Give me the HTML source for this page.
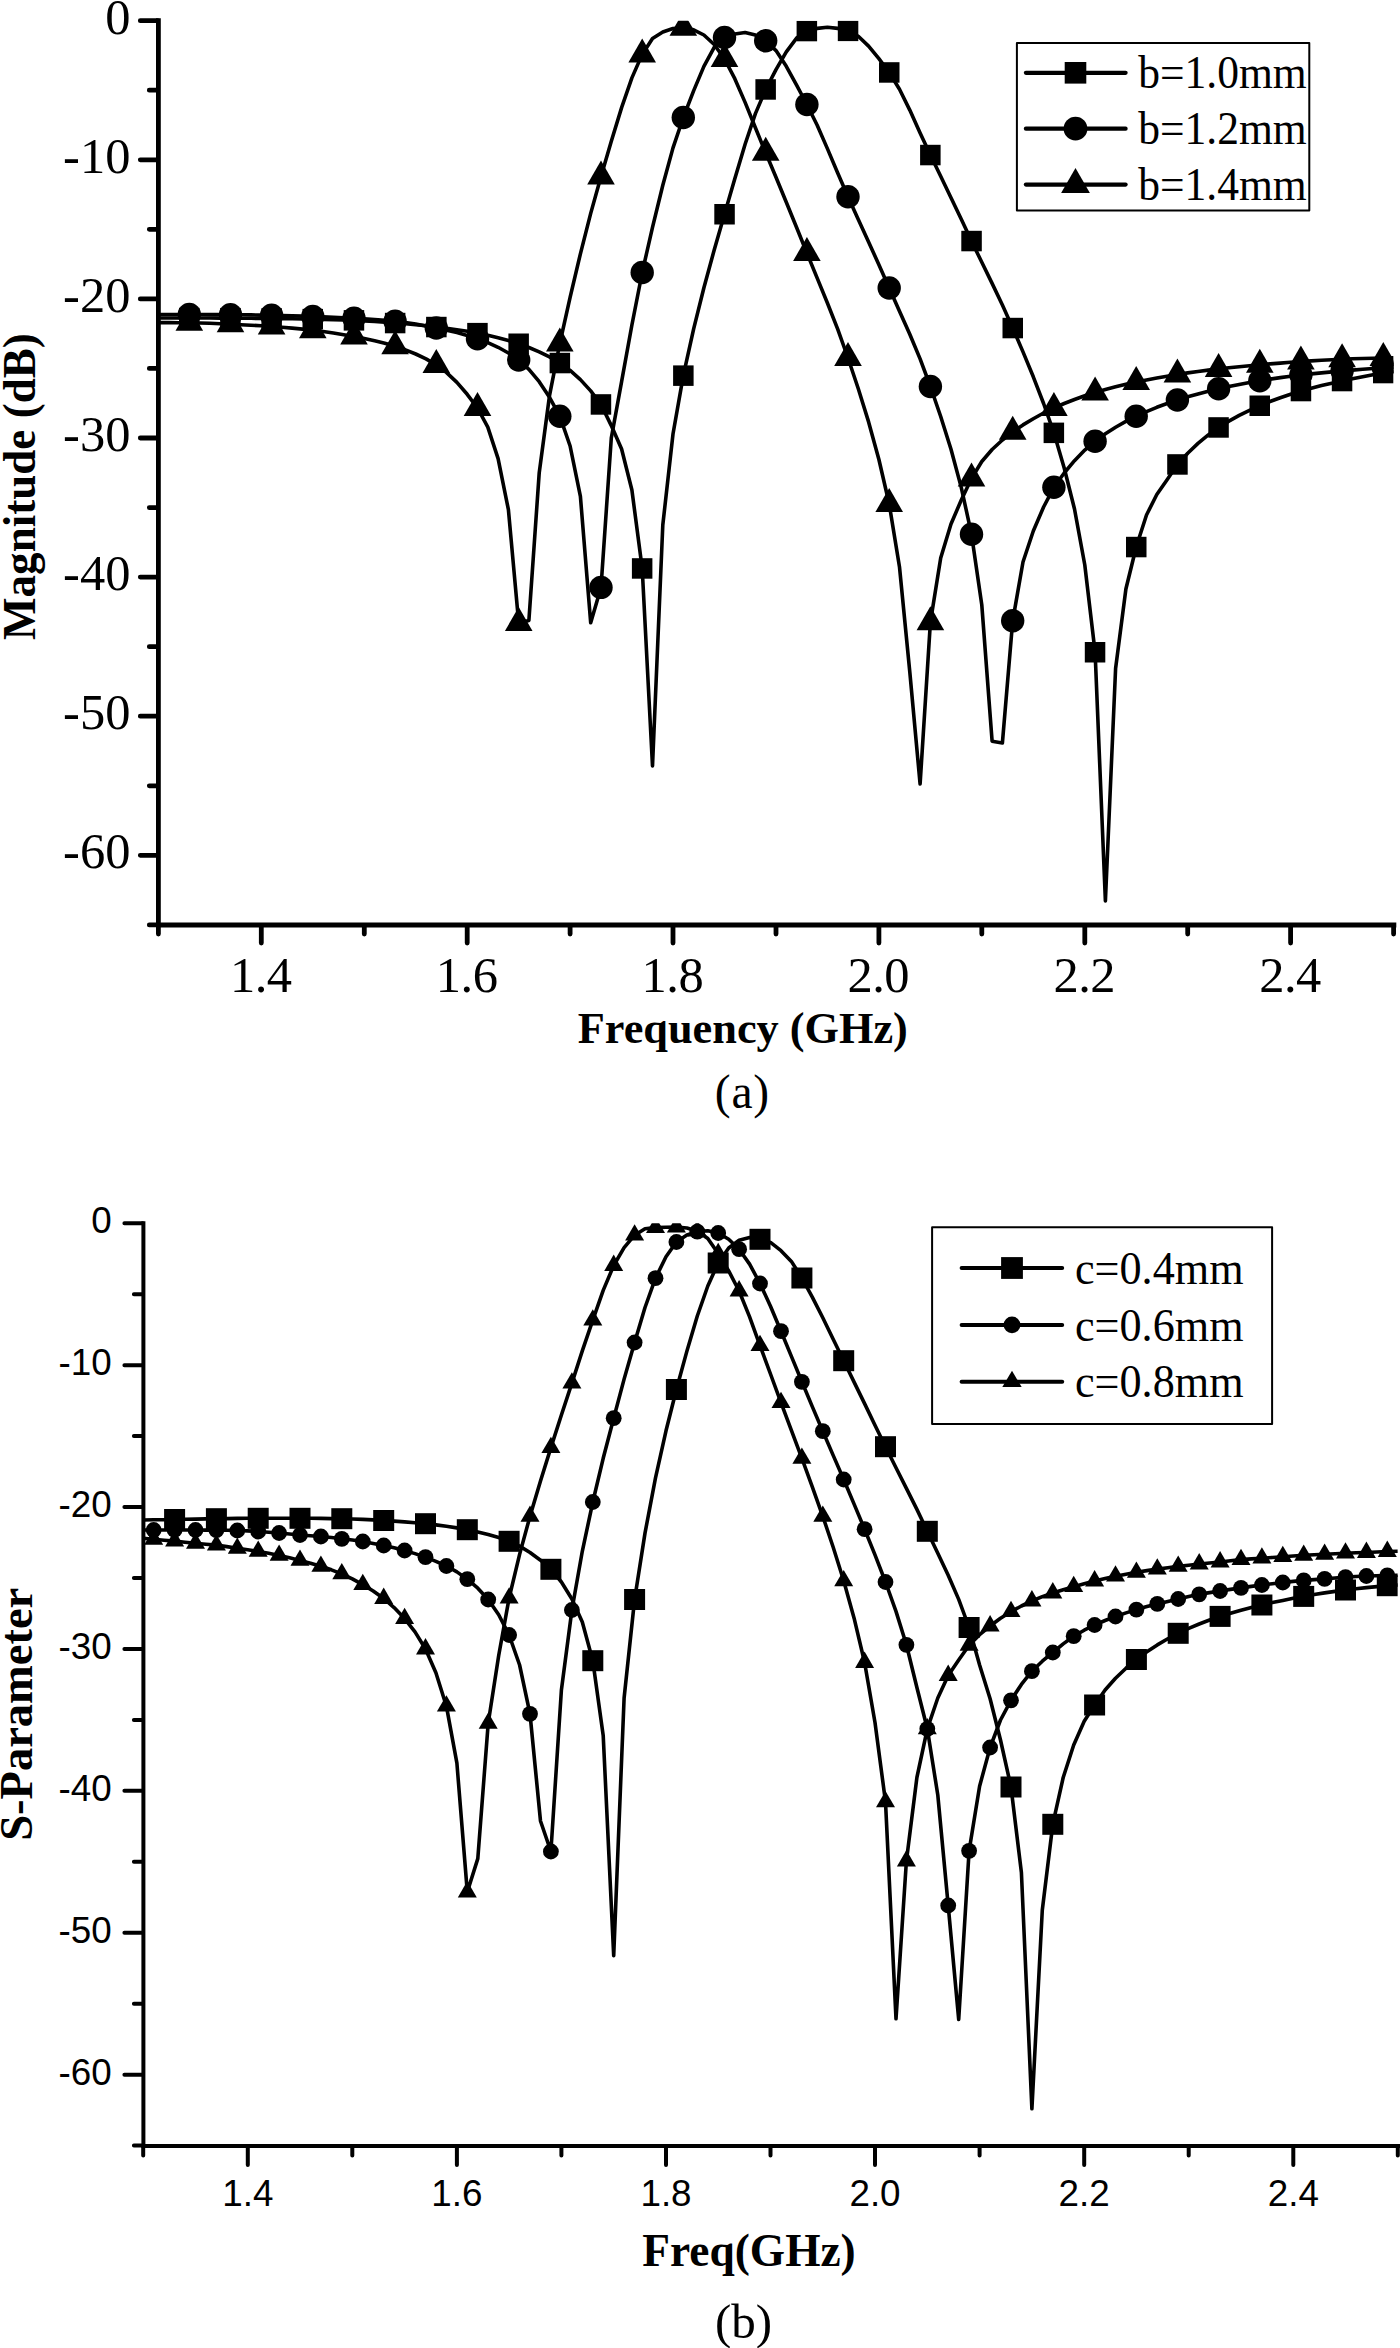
<!DOCTYPE html>
<html lang="en">
<head>
<meta charset="utf-8">
<title>Simulated S-parameter magnitude versus frequency</title>
<style>
html,body{margin:0;padding:0;background:#fff;}
body{width:1400px;height:2348px;overflow:hidden;}
svg{display:block;}
</style>
</head>
<body>
<svg width="1400" height="2348" viewBox="0 0 1400 2348" role="img" aria-label="S-parameter magnitude versus frequency, two panels">
<defs>
<clipPath id="cp1"><rect x="158.4" y="20.7" width="1235.2" height="904.3"/></clipPath>
<clipPath id="cp2"><rect x="143.4" y="1223.2" width="1254.4" height="922.8"/></clipPath>
</defs>
<rect width="1400" height="2348" fill="#fff"/>
<g clip-path="url(#cp1)">
<g fill="none" stroke="#000" stroke-width="3.6" stroke-linejoin="round">
<path d="M158.4 318.0L168.7 318.0L179.0 318.0L189.3 318.0L199.6 318.0L209.9 318.0L220.2 318.1L230.5 318.1L240.7 318.2L251.0 318.3L261.3 318.4L271.6 318.5L281.9 318.6L292.2 318.8L302.5 319.0L312.8 319.2L323.1 319.4L333.4 319.7L343.7 320.0L354.0 320.4L364.3 320.9L374.6 321.5L384.8 322.2L395.1 323.0L405.4 323.8L415.7 324.8L426.0 325.8L436.3 327.0L446.6 328.3L456.9 329.7L467.2 331.3L477.5 333.1L487.8 335.2L498.1 337.7L508.4 340.5L518.7 343.8L528.9 347.5L539.2 351.8L549.5 356.9L559.8 363.0L570.1 370.4L580.4 379.6L590.7 390.9L601.0 404.5L611.3 425.6L621.6 449.0L631.9 490.0L642.2 568.5L652.5 766.0L662.8 525.0L673.0 434.0L683.3 375.6L693.6 329.1L703.9 287.7L714.2 250.0L724.5 214.2L734.8 178.7L745.1 144.2L755.4 113.6L765.7 89.5L776.0 69.7L786.3 51.8L796.6 38.1L806.9 31.0L817.2 28.4L827.4 27.3L837.7 28.4L848.0 30.8L858.3 36.3L868.6 46.1L878.9 58.7L889.2 72.5L899.5 89.2L909.8 110.1L920.1 132.9L930.4 155.0L940.7 176.2L951.0 197.7L961.3 219.3L971.5 241.0L981.8 262.3L992.1 283.4L1002.4 305.1L1012.7 328.0L1023.0 351.9L1033.3 376.8L1043.6 403.5L1053.9 432.8L1064.2 468.0L1074.5 509.0L1084.8 565.0L1095.1 652.3L1105.4 901.0L1115.6 668.5L1125.9 589.0L1136.2 547.0L1146.5 515.0L1156.8 494.5L1167.1 479.8L1177.4 464.5L1187.7 453.2L1198.0 443.4L1208.3 434.9L1218.6 427.5L1228.9 421.1L1239.2 415.4L1249.5 410.3L1259.8 405.8L1270.0 401.5L1280.3 397.7L1290.6 394.2L1300.9 391.0L1311.2 388.2L1321.5 385.6L1331.8 383.3L1342.1 381.0L1352.4 378.8L1362.7 376.7L1373.0 374.8L1383.3 373.0L1393.6 371.5"/>
<path d="M158.4 314.5L168.7 314.5L179.0 314.5L189.3 314.5L199.6 314.5L209.9 314.6L220.2 314.6L230.5 314.7L240.7 314.8L251.0 314.9L261.3 315.1L271.6 315.3L281.9 315.5L292.2 315.8L302.5 316.1L312.8 316.4L323.1 316.8L333.4 317.2L343.7 317.7L354.0 318.2L364.3 318.8L374.6 319.5L384.8 320.3L395.1 321.2L405.4 322.5L415.7 324.1L426.0 326.0L436.3 328.0L446.6 330.2L456.9 332.6L467.2 335.5L477.5 338.8L487.8 342.6L498.1 347.3L508.4 353.0L518.7 360.0L528.9 369.3L539.2 381.7L549.5 397.3L559.8 416.2L570.1 446.0L580.4 496.3L590.7 622.8L601.0 587.4L611.3 438.0L621.6 381.6L631.9 325.0L642.2 272.5L652.5 227.4L662.8 185.2L673.0 147.9L683.3 117.5L693.6 90.9L703.9 66.4L714.2 47.4L724.5 37.5L734.8 34.0L745.1 32.5L755.4 35.1L765.7 40.8L776.0 50.6L786.3 66.3L796.6 85.1L806.9 104.5L817.2 125.2L827.4 148.6L837.7 173.0L848.0 196.8L858.3 219.5L868.6 242.0L878.9 264.7L889.2 288.0L899.5 311.2L909.8 334.3L920.1 358.9L930.4 386.5L940.7 416.5L951.0 449.3L961.3 487.6L971.5 534.2L981.8 605.0L992.1 741.2L1002.4 743.0L1012.7 620.8L1023.0 562.0L1033.3 531.0L1043.6 507.0L1053.9 487.3L1064.2 473.0L1074.5 460.7L1084.8 450.1L1095.1 441.2L1105.4 433.7L1115.6 427.2L1125.9 421.4L1136.2 416.2L1146.5 411.6L1156.8 407.3L1167.1 403.5L1177.4 400.0L1187.7 396.8L1198.0 393.9L1208.3 391.2L1218.6 388.8L1228.9 386.5L1239.2 384.4L1249.5 382.5L1259.8 380.8L1270.0 379.1L1280.3 377.6L1290.6 376.2L1300.9 375.0L1311.2 373.9L1321.5 372.9L1331.8 371.9L1342.1 371.0L1352.4 370.1L1362.7 369.3L1373.0 368.5L1383.3 367.8L1393.6 367.2"/>
<path d="M158.4 322.6L168.7 322.6L179.0 322.7L189.3 322.8L199.6 323.0L209.9 323.3L220.2 323.8L230.5 324.2L240.7 324.7L251.0 325.2L261.3 325.7L271.6 326.4L281.9 327.2L292.2 328.1L302.5 329.1L312.8 330.2L323.1 331.5L333.4 333.0L343.7 334.7L354.0 336.5L364.3 338.5L374.6 340.8L384.8 343.3L395.1 346.3L405.4 349.8L415.7 354.0L426.0 358.9L436.3 364.9L446.6 372.6L456.9 382.4L467.2 394.3L477.5 408.0L487.8 427.1L498.1 458.6L508.4 509.6L518.7 623.0L528.9 620.4L539.2 473.0L549.5 395.7L559.8 343.5L570.1 297.3L580.4 253.8L590.7 213.4L601.0 176.4L611.3 141.2L621.6 107.6L631.9 77.9L642.2 54.4L652.5 38.5L662.8 32.0L673.0 28.5L683.3 27.8L693.6 29.8L703.9 35.0L714.2 44.5L724.5 59.0L734.8 78.7L745.1 102.4L755.4 127.8L765.7 152.8L776.0 177.3L786.3 202.2L796.6 227.5L806.9 253.0L817.2 278.1L827.4 303.0L837.7 329.2L848.0 358.0L858.3 388.8L868.6 421.9L878.9 459.5L889.2 504.0L899.5 567.0L909.8 672.0L920.1 784.0L930.4 622.2L940.7 558.0L951.0 524.0L961.3 500.0L971.5 478.5L981.8 461.5L992.1 449.5L1002.4 440.0L1012.7 431.8L1023.0 424.9L1033.3 418.7L1043.6 413.0L1053.9 408.0L1064.2 403.5L1074.5 399.5L1084.8 395.8L1095.1 392.5L1105.4 389.5L1115.6 386.8L1125.9 384.3L1136.2 382.0L1146.5 379.9L1156.8 378.0L1167.1 376.2L1177.4 374.5L1187.7 372.9L1198.0 371.5L1208.3 370.1L1218.6 368.9L1228.9 367.8L1239.2 366.7L1249.5 365.7L1259.8 364.8L1270.0 363.9L1280.3 363.1L1290.6 362.3L1300.9 361.6L1311.2 360.9L1321.5 360.3L1331.8 359.7L1342.1 359.2L1352.4 358.8L1362.7 358.5L1373.0 358.2L1383.3 358.0L1393.6 357.8"/>
</g>
<g fill="#000">
<rect x="179.0" y="307.8" width="20.5" height="20.5"/>
<rect x="220.2" y="307.9" width="20.5" height="20.5"/>
<rect x="261.4" y="308.2" width="20.5" height="20.5"/>
<rect x="302.5" y="308.9" width="20.5" height="20.5"/>
<rect x="343.7" y="310.1" width="20.5" height="20.5"/>
<rect x="384.9" y="312.8" width="20.5" height="20.5"/>
<rect x="426.1" y="316.8" width="20.5" height="20.5"/>
<rect x="467.2" y="322.9" width="20.5" height="20.5"/>
<rect x="508.4" y="333.5" width="20.5" height="20.5"/>
<rect x="549.6" y="352.8" width="20.5" height="20.5"/>
<rect x="590.7" y="394.2" width="20.5" height="20.5"/>
<rect x="631.9" y="558.2" width="20.5" height="20.5"/>
<rect x="673.1" y="365.4" width="20.5" height="20.5"/>
<rect x="714.3" y="204.0" width="20.5" height="20.5"/>
<rect x="755.4" y="79.2" width="20.5" height="20.5"/>
<rect x="796.6" y="20.8" width="20.5" height="20.5"/>
<rect x="837.8" y="20.6" width="20.5" height="20.5"/>
<rect x="879.0" y="62.2" width="20.5" height="20.5"/>
<rect x="920.1" y="144.8" width="20.5" height="20.5"/>
<rect x="961.3" y="230.8" width="20.5" height="20.5"/>
<rect x="1002.5" y="317.8" width="20.5" height="20.5"/>
<rect x="1043.6" y="422.6" width="20.5" height="20.5"/>
<rect x="1084.8" y="642.0" width="20.5" height="20.5"/>
<rect x="1126.0" y="536.8" width="20.5" height="20.5"/>
<rect x="1167.2" y="454.2" width="20.5" height="20.5"/>
<rect x="1208.3" y="417.2" width="20.5" height="20.5"/>
<rect x="1249.5" y="395.5" width="20.5" height="20.5"/>
<rect x="1290.7" y="380.8" width="20.5" height="20.5"/>
<rect x="1331.8" y="370.8" width="20.5" height="20.5"/>
<rect x="1373.0" y="362.8" width="20.5" height="20.5"/>
<circle cx="189.3" cy="314.5" r="11.70"/>
<circle cx="230.5" cy="314.7" r="11.70"/>
<circle cx="271.6" cy="315.3" r="11.70"/>
<circle cx="312.8" cy="316.4" r="11.70"/>
<circle cx="354.0" cy="318.2" r="11.70"/>
<circle cx="395.1" cy="321.2" r="11.70"/>
<circle cx="436.3" cy="328.0" r="11.70"/>
<circle cx="477.5" cy="338.8" r="11.70"/>
<circle cx="518.7" cy="360.0" r="11.70"/>
<circle cx="559.8" cy="416.2" r="11.70"/>
<circle cx="601.0" cy="587.4" r="11.70"/>
<circle cx="642.2" cy="272.5" r="11.70"/>
<circle cx="683.3" cy="117.5" r="11.70"/>
<circle cx="724.5" cy="37.5" r="11.70"/>
<circle cx="765.7" cy="40.8" r="11.70"/>
<circle cx="806.9" cy="104.5" r="11.70"/>
<circle cx="848.0" cy="196.8" r="11.70"/>
<circle cx="889.2" cy="288.0" r="11.70"/>
<circle cx="930.4" cy="386.5" r="11.70"/>
<circle cx="971.5" cy="534.2" r="11.70"/>
<circle cx="1012.7" cy="620.8" r="11.70"/>
<circle cx="1053.9" cy="487.3" r="11.70"/>
<circle cx="1095.1" cy="441.2" r="11.70"/>
<circle cx="1136.2" cy="416.2" r="11.70"/>
<circle cx="1177.4" cy="400.0" r="11.70"/>
<circle cx="1218.6" cy="388.8" r="11.70"/>
<circle cx="1259.8" cy="380.8" r="11.70"/>
<circle cx="1300.9" cy="375.0" r="11.70"/>
<circle cx="1342.1" cy="371.0" r="11.70"/>
<circle cx="1383.3" cy="367.8" r="11.70"/>
<path d="M189.3 306.8 L203.1 330.8 L175.5 330.8 Z"/>
<path d="M230.5 308.2 L244.3 332.2 L216.7 332.2 Z"/>
<path d="M271.6 310.4 L285.4 334.4 L257.8 334.4 Z"/>
<path d="M312.8 314.2 L326.6 338.2 L299.0 338.2 Z"/>
<path d="M354.0 320.5 L367.8 344.5 L340.2 344.5 Z"/>
<path d="M395.1 330.3 L408.9 354.3 L381.3 354.3 Z"/>
<path d="M436.3 348.9 L450.1 372.9 L422.5 372.9 Z"/>
<path d="M477.5 392.0 L491.3 416.0 L463.7 416.0 Z"/>
<path d="M518.7 607.0 L532.5 631.0 L504.9 631.0 Z"/>
<path d="M559.8 327.5 L573.6 351.5 L546.0 351.5 Z"/>
<path d="M601.0 160.4 L614.8 184.4 L587.2 184.4 Z"/>
<path d="M642.2 38.4 L656.0 62.4 L628.4 62.4 Z"/>
<path d="M683.3 11.8 L697.1 35.8 L669.5 35.8 Z"/>
<path d="M724.5 43.0 L738.3 67.0 L710.7 67.0 Z"/>
<path d="M765.7 136.8 L779.5 160.8 L751.9 160.8 Z"/>
<path d="M806.9 237.0 L820.7 261.0 L793.1 261.0 Z"/>
<path d="M848.0 342.0 L861.8 366.0 L834.2 366.0 Z"/>
<path d="M889.2 488.0 L903.0 512.0 L875.4 512.0 Z"/>
<path d="M930.4 606.2 L944.2 630.2 L916.6 630.2 Z"/>
<path d="M971.5 462.5 L985.3 486.5 L957.7 486.5 Z"/>
<path d="M1012.7 415.8 L1026.5 439.8 L998.9 439.8 Z"/>
<path d="M1053.9 392.0 L1067.7 416.0 L1040.1 416.0 Z"/>
<path d="M1095.1 376.5 L1108.9 400.5 L1081.3 400.5 Z"/>
<path d="M1136.2 366.0 L1150.0 390.0 L1122.4 390.0 Z"/>
<path d="M1177.4 358.5 L1191.2 382.5 L1163.6 382.5 Z"/>
<path d="M1218.6 352.9 L1232.4 376.9 L1204.8 376.9 Z"/>
<path d="M1259.8 348.8 L1273.6 372.8 L1246.0 372.8 Z"/>
<path d="M1300.9 345.6 L1314.7 369.6 L1287.1 369.6 Z"/>
<path d="M1342.1 343.2 L1355.9 367.2 L1328.3 367.2 Z"/>
<path d="M1383.3 342.0 L1397.1 366.0 L1369.5 366.0 Z"/>
</g></g>
<g stroke="#000" stroke-linecap="round" fill="none">
<path stroke-width="4.8" stroke-linecap="butt" d="M158.4 18.3 V925.0"/>
<path stroke-width="4.8" stroke-linecap="butt" d="M156.0 925.0 H1396.3"/>
<path stroke-width="4.8" d="M157.6 20.7 H140.3M157.6 90.2 H149.3M157.6 159.8 H140.3M157.6 229.3 H149.3M157.6 298.9 H140.3M157.6 368.4 H149.3M157.6 438.0 H140.3M157.6 507.6 H149.3M157.6 577.1 H140.3M157.6 646.7 H149.3M157.6 716.2 H140.3M157.6 785.8 H149.3M157.6 855.3 H140.3M157.6 924.9 H149.3M158.4 925.8 V934.1M261.3 925.8 V943.1M364.3 925.8 V934.1M467.2 925.8 V943.1M570.1 925.8 V934.1M673.0 925.8 V943.1M776.0 925.8 V934.1M878.9 925.8 V943.1M981.8 925.8 V934.1M1084.8 925.8 V943.1M1187.7 925.8 V934.1M1290.6 925.8 V943.1M1393.6 925.8 V934.1"/>
</g>
<g font-family="'Liberation Serif', serif" font-size="50.5" fill="#000">
<g text-anchor="end">
<text x="130.4" y="33.7">0</text>
<text x="130.4" y="172.8">-10</text>
<text x="130.4" y="311.9">-20</text>
<text x="130.4" y="451.0">-30</text>
<text x="130.4" y="590.1">-40</text>
<text x="130.4" y="729.2">-50</text>
<text x="130.4" y="868.3">-60</text>
</g><g text-anchor="middle" letter-spacing="-0.50">
<text x="260.7" y="991.8">1.4</text>
<text x="466.6" y="991.8">1.6</text>
<text x="672.4" y="991.8">1.8</text>
<text x="878.3" y="991.8">2.0</text>
<text x="1084.2" y="991.8">2.2</text>
<text x="1290.0" y="991.8">2.4</text>
</g></g>
<rect x="1016.9" y="43" width="292.4" height="167.5" fill="#fff" stroke="#000" stroke-width="2" stroke-linejoin="round"/>
<g stroke="#000" stroke-width="4.2" stroke-linecap="round">
<path d="M1025.9 72.8 H1125.6"/>
<path d="M1025.9 128.7 H1125.6"/>
<path d="M1025.9 184.6 H1125.6"/>
</g>
<rect x="1064.7" y="62" width="21.6" height="21.6"/>
<circle cx="1075.5" cy="128.7" r="11.9"/>
<path d="M1075.5 168.1 L1089.9 192.9 L1061.1 192.9 Z"/>
<g font-family="'Liberation Serif', serif" font-size="45.5" fill="#000">
<text x="1138.2" y="88.1" textLength="168.5" lengthAdjust="spacingAndGlyphs">b=1.0mm</text>
<text x="1138.2" y="144.1" textLength="168.5" lengthAdjust="spacingAndGlyphs">b=1.2mm</text>
<text x="1138.2" y="200.0" textLength="168.5" lengthAdjust="spacingAndGlyphs">b=1.4mm</text>
</g>
<g font-family="'Liberation Serif', serif" fill="#000" text-anchor="middle">
<text x="742.8" y="1043" font-size="44.3" font-weight="bold">Frequency (GHz)</text>
<text x="742.4" y="1108" font-size="47.6" letter-spacing="0.8">(a)</text>
<text transform="translate(34.9 486.6) rotate(-90)" font-size="46" font-weight="bold" textLength="306.8" lengthAdjust="spacingAndGlyphs">Magnitude (dB)</text>
</g>
<g clip-path="url(#cp2)">
<g fill="none" stroke="#000" stroke-width="3.6" stroke-linejoin="round">
<path d="M143.2 1520.0L153.7 1519.8L164.1 1519.7L174.6 1519.5L185.0 1519.3L195.5 1519.1L205.9 1518.9L216.4 1518.8L226.8 1518.6L237.3 1518.4L247.7 1518.3L258.2 1518.2L268.7 1518.2L279.1 1518.2L289.6 1518.2L300.0 1518.2L310.5 1518.3L320.9 1518.4L331.4 1518.6L341.8 1518.8L352.3 1519.0L362.8 1519.4L373.2 1519.9L383.7 1520.5L394.1 1521.1L404.6 1521.9L415.0 1522.8L425.5 1523.8L435.9 1524.9L446.4 1526.3L456.9 1527.9L467.3 1529.8L477.8 1531.9L488.2 1534.4L498.7 1537.5L509.1 1541.2L519.6 1546.1L530.0 1552.5L540.5 1560.2L550.9 1569.2L561.4 1582.0L571.9 1599.0L582.3 1622.0L592.8 1660.8L603.2 1735.4L613.7 1955.6L624.1 1698.0L634.6 1599.5L645.0 1533.1L655.5 1477.8L666.0 1430.8L676.4 1389.5L686.9 1351.1L697.3 1316.0L707.8 1286.0L718.2 1263.0L728.7 1248.0L739.1 1240.3L749.6 1237.5L760.0 1239.3L770.5 1242.4L781.0 1250.7L791.4 1261.4L801.9 1278.0L812.3 1297.1L822.8 1317.8L833.2 1339.3L843.7 1360.8L854.1 1382.1L864.6 1403.6L875.0 1425.3L885.5 1446.8L896.0 1467.7L906.4 1488.4L916.9 1509.4L927.3 1531.2L937.8 1553.2L948.2 1575.3L958.7 1599.4L969.1 1627.5L979.6 1665.0L990.1 1698.8L1000.5 1740.0L1011.0 1787.0L1021.4 1872.5L1031.9 2108.8L1042.3 1910.0L1052.8 1824.2L1063.2 1777.5L1073.7 1745.0L1084.2 1721.2L1094.6 1705.0L1105.1 1690.0L1115.5 1678.3L1126.0 1668.2L1136.4 1659.5L1146.9 1651.8L1157.3 1644.9L1167.8 1638.8L1178.2 1633.3L1188.7 1628.4L1199.2 1624.0L1209.6 1620.0L1220.1 1616.4L1230.5 1613.2L1241.0 1610.2L1251.4 1607.5L1261.9 1605.0L1272.3 1602.6L1282.8 1600.4L1293.2 1598.3L1303.7 1596.4L1314.2 1594.6L1324.6 1592.9L1335.1 1591.4L1345.5 1590.0L1356.0 1588.8L1366.4 1587.6L1376.9 1586.6L1387.3 1585.7L1397.8 1585.0"/>
<path d="M143.2 1530.0L153.7 1530.0L164.1 1530.0L174.6 1530.0L185.0 1530.0L195.5 1530.0L205.9 1530.1L216.4 1530.2L226.8 1530.3L237.3 1530.5L247.7 1530.9L258.2 1531.5L268.7 1532.2L279.1 1533.0L289.6 1534.0L300.0 1535.0L310.5 1535.7L320.9 1536.5L331.4 1537.5L341.8 1538.8L352.3 1540.0L362.8 1541.5L373.2 1543.4L383.7 1545.5L394.1 1547.8L404.6 1550.5L415.0 1553.6L425.5 1557.2L435.9 1561.3L446.4 1566.0L456.9 1571.9L467.3 1579.2L477.8 1588.2L488.2 1599.5L498.7 1614.7L509.1 1635.0L519.6 1665.0L530.0 1713.8L540.5 1821.0L550.9 1851.5L561.4 1690.0L571.9 1610.0L582.3 1551.3L592.8 1502.0L603.2 1458.3L613.7 1418.2L624.1 1379.1L634.6 1342.5L645.0 1307.5L655.5 1278.2L666.0 1256.7L676.4 1242.0L686.9 1235.0L697.3 1231.6L707.8 1230.7L718.2 1233.0L728.7 1239.2L739.1 1249.2L749.6 1264.1L760.0 1283.5L770.5 1306.2L781.0 1331.2L791.4 1356.4L801.9 1381.8L812.3 1406.6L822.8 1431.2L833.2 1455.4L843.7 1479.5L854.1 1504.1L864.6 1529.2L875.0 1554.9L885.5 1582.0L896.0 1611.4L906.4 1644.8L916.9 1687.5L927.3 1728.8L937.8 1795.0L948.2 1905.5L958.7 2019.5L969.1 1850.8L979.6 1786.2L990.1 1747.5L1000.5 1720.0L1011.0 1700.3L1021.4 1684.4L1031.9 1671.2L1042.3 1661.2L1052.8 1652.5L1063.2 1643.9L1073.7 1636.2L1084.2 1630.2L1094.6 1625.0L1105.1 1620.5L1115.5 1616.5L1126.0 1612.9L1136.4 1609.6L1146.9 1606.6L1157.3 1603.9L1167.8 1601.4L1178.2 1599.0L1188.7 1596.5L1199.2 1594.3L1209.6 1592.6L1220.1 1591.0L1230.5 1589.4L1241.0 1587.9L1251.4 1586.4L1261.9 1585.0L1272.3 1583.7L1282.8 1582.5L1293.2 1581.4L1303.7 1580.4L1314.2 1579.6L1324.6 1578.9L1335.1 1578.0L1345.5 1577.1L1356.0 1576.5L1366.4 1576.0L1376.9 1575.7L1387.3 1575.4L1397.8 1575.2"/>
<path d="M143.2 1538.2L153.7 1539.3L164.1 1540.2L174.6 1541.1L185.0 1542.2L195.5 1543.3L205.9 1544.2L216.4 1545.1L226.8 1546.6L237.3 1548.3L247.7 1549.8L258.2 1551.4L268.7 1553.3L279.1 1555.4L289.6 1557.8L300.0 1560.4L310.5 1563.2L320.9 1566.3L331.4 1569.8L341.8 1573.9L352.3 1578.8L362.8 1584.6L373.2 1591.0L383.7 1598.5L394.1 1607.6L404.6 1618.6L415.0 1631.9L425.5 1649.0L435.9 1672.7L446.4 1706.2L456.9 1763.2L467.3 1892.0L477.8 1858.6L488.2 1723.3L498.7 1655.5L509.1 1598.1L519.6 1554.4L530.0 1516.3L540.5 1480.9L550.9 1447.6L561.4 1415.0L571.9 1383.1L582.3 1350.9L592.8 1320.1L603.2 1290.4L613.7 1265.5L624.1 1247.6L634.6 1235.2L645.0 1228.8L655.5 1227.6L666.0 1227.2L676.4 1227.1L686.9 1228.0L697.3 1231.0L707.8 1238.5L718.2 1253.6L728.7 1270.9L739.1 1291.0L749.6 1316.9L760.0 1345.6L770.5 1374.0L781.0 1402.6L791.4 1430.4L801.9 1458.3L812.3 1486.8L822.8 1516.3L833.2 1547.2L843.7 1580.8L854.1 1618.2L864.6 1662.5L875.0 1722.5L885.5 1801.8L896.0 2018.8L906.4 1861.0L916.9 1777.5L927.3 1728.8L937.8 1698.0L948.2 1675.5L958.7 1660.0L969.1 1645.3L979.6 1634.7L990.1 1626.0L1000.5 1618.3L1011.0 1611.7L1021.4 1606.0L1031.9 1601.0L1042.3 1596.7L1052.8 1593.0L1063.2 1589.7L1073.7 1586.7L1084.2 1583.8L1094.6 1581.0L1105.1 1578.5L1115.5 1576.2L1126.0 1574.2L1136.4 1572.3L1146.9 1570.6L1157.3 1569.1L1167.8 1567.7L1178.2 1566.4L1188.7 1565.2L1199.2 1564.0L1209.6 1563.0L1220.1 1562.0L1230.5 1560.7L1241.0 1559.6L1251.4 1558.9L1261.9 1558.2L1272.3 1557.5L1282.8 1556.7L1293.2 1556.0L1303.7 1555.3L1314.2 1554.8L1324.6 1554.3L1335.1 1553.7L1345.5 1553.2L1356.0 1552.8L1366.4 1552.5L1376.9 1552.0L1387.3 1551.5L1397.8 1551.2"/>
</g>
<g fill="#000">
<rect x="164.1" y="1509.0" width="21.0" height="21.0"/>
<rect x="205.9" y="1508.2" width="21.0" height="21.0"/>
<rect x="247.7" y="1507.8" width="21.0" height="21.0"/>
<rect x="289.5" y="1507.8" width="21.0" height="21.0"/>
<rect x="331.3" y="1508.2" width="21.0" height="21.0"/>
<rect x="373.2" y="1510.0" width="21.0" height="21.0"/>
<rect x="415.0" y="1513.2" width="21.0" height="21.0"/>
<rect x="456.8" y="1519.2" width="21.0" height="21.0"/>
<rect x="498.6" y="1530.8" width="21.0" height="21.0"/>
<rect x="540.4" y="1558.8" width="21.0" height="21.0"/>
<rect x="582.3" y="1650.2" width="21.0" height="21.0"/>
<rect x="624.1" y="1589.0" width="21.0" height="21.0"/>
<rect x="665.9" y="1379.0" width="21.0" height="21.0"/>
<rect x="707.7" y="1252.5" width="21.0" height="21.0"/>
<rect x="749.5" y="1228.8" width="21.0" height="21.0"/>
<rect x="791.4" y="1267.5" width="21.0" height="21.0"/>
<rect x="833.2" y="1350.2" width="21.0" height="21.0"/>
<rect x="875.0" y="1436.2" width="21.0" height="21.0"/>
<rect x="916.8" y="1520.8" width="21.0" height="21.0"/>
<rect x="958.6" y="1617.0" width="21.0" height="21.0"/>
<rect x="1000.5" y="1776.5" width="21.0" height="21.0"/>
<rect x="1042.3" y="1813.8" width="21.0" height="21.0"/>
<rect x="1084.1" y="1694.5" width="21.0" height="21.0"/>
<rect x="1125.9" y="1649.0" width="21.0" height="21.0"/>
<rect x="1167.7" y="1622.8" width="21.0" height="21.0"/>
<rect x="1209.6" y="1605.9" width="21.0" height="21.0"/>
<rect x="1251.4" y="1594.5" width="21.0" height="21.0"/>
<rect x="1293.2" y="1585.9" width="21.0" height="21.0"/>
<rect x="1335.0" y="1579.5" width="21.0" height="21.0"/>
<rect x="1376.8" y="1575.2" width="21.0" height="21.0"/>
<circle cx="153.7" cy="1530.0" r="7.90"/>
<circle cx="174.6" cy="1530.0" r="7.90"/>
<circle cx="195.5" cy="1530.0" r="7.90"/>
<circle cx="216.4" cy="1530.2" r="7.90"/>
<circle cx="237.3" cy="1530.5" r="7.90"/>
<circle cx="258.2" cy="1531.5" r="7.90"/>
<circle cx="279.1" cy="1533.0" r="7.90"/>
<circle cx="300.0" cy="1535.0" r="7.90"/>
<circle cx="320.9" cy="1536.5" r="7.90"/>
<circle cx="341.8" cy="1538.8" r="7.90"/>
<circle cx="362.8" cy="1541.5" r="7.90"/>
<circle cx="383.7" cy="1545.5" r="7.90"/>
<circle cx="404.6" cy="1550.5" r="7.90"/>
<circle cx="425.5" cy="1557.2" r="7.90"/>
<circle cx="446.4" cy="1566.0" r="7.90"/>
<circle cx="467.3" cy="1579.2" r="7.90"/>
<circle cx="488.2" cy="1599.5" r="7.90"/>
<circle cx="509.1" cy="1635.0" r="7.90"/>
<circle cx="530.0" cy="1713.8" r="7.90"/>
<circle cx="550.9" cy="1851.5" r="7.90"/>
<circle cx="571.9" cy="1610.0" r="7.90"/>
<circle cx="592.8" cy="1502.0" r="7.90"/>
<circle cx="613.7" cy="1418.2" r="7.90"/>
<circle cx="634.6" cy="1342.5" r="7.90"/>
<circle cx="655.5" cy="1278.2" r="7.90"/>
<circle cx="676.4" cy="1242.0" r="7.90"/>
<circle cx="697.3" cy="1231.6" r="7.90"/>
<circle cx="718.2" cy="1233.0" r="7.90"/>
<circle cx="739.1" cy="1249.2" r="7.90"/>
<circle cx="760.0" cy="1283.5" r="7.90"/>
<circle cx="781.0" cy="1331.2" r="7.90"/>
<circle cx="801.9" cy="1381.8" r="7.90"/>
<circle cx="822.8" cy="1431.2" r="7.90"/>
<circle cx="843.7" cy="1479.5" r="7.90"/>
<circle cx="864.6" cy="1529.2" r="7.90"/>
<circle cx="885.5" cy="1582.0" r="7.90"/>
<circle cx="906.4" cy="1644.8" r="7.90"/>
<circle cx="927.3" cy="1728.8" r="7.90"/>
<circle cx="948.2" cy="1905.5" r="7.90"/>
<circle cx="969.1" cy="1850.8" r="7.90"/>
<circle cx="990.1" cy="1747.5" r="7.90"/>
<circle cx="1011.0" cy="1700.3" r="7.90"/>
<circle cx="1031.9" cy="1671.2" r="7.90"/>
<circle cx="1052.8" cy="1652.5" r="7.90"/>
<circle cx="1073.7" cy="1636.2" r="7.90"/>
<circle cx="1094.6" cy="1625.0" r="7.90"/>
<circle cx="1115.5" cy="1616.5" r="7.90"/>
<circle cx="1136.4" cy="1609.6" r="7.90"/>
<circle cx="1157.3" cy="1603.9" r="7.90"/>
<circle cx="1178.2" cy="1599.0" r="7.90"/>
<circle cx="1199.2" cy="1594.3" r="7.90"/>
<circle cx="1220.1" cy="1591.0" r="7.90"/>
<circle cx="1241.0" cy="1587.9" r="7.90"/>
<circle cx="1261.9" cy="1585.0" r="7.90"/>
<circle cx="1282.8" cy="1582.5" r="7.90"/>
<circle cx="1303.7" cy="1580.4" r="7.90"/>
<circle cx="1324.6" cy="1578.9" r="7.90"/>
<circle cx="1345.5" cy="1577.1" r="7.90"/>
<circle cx="1366.4" cy="1576.0" r="7.90"/>
<circle cx="1387.3" cy="1575.4" r="7.90"/>
<path d="M153.7 1528.4 L163.2 1544.7 L144.2 1544.7 Z"/>
<path d="M174.6 1530.2 L184.1 1546.5 L165.1 1546.5 Z"/>
<path d="M195.5 1532.4 L205.0 1548.7 L186.0 1548.7 Z"/>
<path d="M216.4 1534.2 L225.9 1550.5 L206.9 1550.5 Z"/>
<path d="M237.3 1537.4 L246.8 1553.7 L227.8 1553.7 Z"/>
<path d="M258.2 1540.5 L267.7 1556.8 L248.7 1556.8 Z"/>
<path d="M279.1 1544.5 L288.6 1560.8 L269.6 1560.8 Z"/>
<path d="M300.0 1549.5 L309.5 1565.8 L290.5 1565.8 Z"/>
<path d="M320.9 1555.4 L330.4 1571.7 L311.4 1571.7 Z"/>
<path d="M341.8 1563.0 L351.3 1579.3 L332.3 1579.3 Z"/>
<path d="M362.8 1573.7 L372.3 1590.0 L353.3 1590.0 Z"/>
<path d="M383.7 1587.6 L393.2 1603.9 L374.2 1603.9 Z"/>
<path d="M404.6 1607.7 L414.1 1624.0 L395.1 1624.0 Z"/>
<path d="M425.5 1638.1 L435.0 1654.4 L416.0 1654.4 Z"/>
<path d="M446.4 1695.3 L455.9 1711.6 L436.9 1711.6 Z"/>
<path d="M467.3 1881.1 L476.8 1897.4 L457.8 1897.4 Z"/>
<path d="M488.2 1712.4 L497.7 1728.7 L478.7 1728.7 Z"/>
<path d="M509.1 1587.2 L518.6 1603.5 L499.6 1603.5 Z"/>
<path d="M530.0 1505.4 L539.5 1521.7 L520.5 1521.7 Z"/>
<path d="M550.9 1436.7 L560.4 1453.0 L541.4 1453.0 Z"/>
<path d="M571.9 1372.2 L581.4 1388.5 L562.4 1388.5 Z"/>
<path d="M592.8 1309.2 L602.3 1325.5 L583.3 1325.5 Z"/>
<path d="M613.7 1254.6 L623.2 1270.9 L604.2 1270.9 Z"/>
<path d="M634.6 1224.3 L644.1 1240.6 L625.1 1240.6 Z"/>
<path d="M655.5 1216.7 L665.0 1233.0 L646.0 1233.0 Z"/>
<path d="M676.4 1216.2 L685.9 1232.5 L666.9 1232.5 Z"/>
<path d="M697.3 1220.1 L706.8 1236.4 L687.8 1236.4 Z"/>
<path d="M718.2 1242.7 L727.7 1259.0 L708.7 1259.0 Z"/>
<path d="M739.1 1280.1 L748.6 1296.4 L729.6 1296.4 Z"/>
<path d="M760.0 1334.7 L769.5 1351.0 L750.5 1351.0 Z"/>
<path d="M781.0 1391.7 L790.5 1408.0 L771.5 1408.0 Z"/>
<path d="M801.9 1447.4 L811.4 1463.7 L792.4 1463.7 Z"/>
<path d="M822.8 1505.4 L832.3 1521.7 L813.3 1521.7 Z"/>
<path d="M843.7 1569.9 L853.2 1586.2 L834.2 1586.2 Z"/>
<path d="M864.6 1651.6 L874.1 1667.9 L855.1 1667.9 Z"/>
<path d="M885.5 1790.9 L895.0 1807.2 L876.0 1807.2 Z"/>
<path d="M906.4 1850.1 L915.9 1866.4 L896.9 1866.4 Z"/>
<path d="M927.3 1717.9 L936.8 1734.2 L917.8 1734.2 Z"/>
<path d="M948.2 1664.6 L957.7 1680.9 L938.7 1680.9 Z"/>
<path d="M969.1 1634.4 L978.6 1650.7 L959.6 1650.7 Z"/>
<path d="M990.1 1615.1 L999.6 1631.4 L980.6 1631.4 Z"/>
<path d="M1011.0 1600.8 L1020.5 1617.1 L1001.5 1617.1 Z"/>
<path d="M1031.9 1590.1 L1041.4 1606.4 L1022.4 1606.4 Z"/>
<path d="M1052.8 1582.1 L1062.3 1598.4 L1043.3 1598.4 Z"/>
<path d="M1073.7 1575.8 L1083.2 1592.1 L1064.2 1592.1 Z"/>
<path d="M1094.6 1570.1 L1104.1 1586.4 L1085.1 1586.4 Z"/>
<path d="M1115.5 1565.3 L1125.0 1581.6 L1106.0 1581.6 Z"/>
<path d="M1136.4 1561.4 L1145.9 1577.7 L1126.9 1577.7 Z"/>
<path d="M1157.3 1558.2 L1166.8 1574.5 L1147.8 1574.5 Z"/>
<path d="M1178.2 1555.5 L1187.7 1571.8 L1168.7 1571.8 Z"/>
<path d="M1199.2 1553.1 L1208.7 1569.4 L1189.7 1569.4 Z"/>
<path d="M1220.1 1551.1 L1229.6 1567.4 L1210.6 1567.4 Z"/>
<path d="M1241.0 1548.7 L1250.5 1565.0 L1231.5 1565.0 Z"/>
<path d="M1261.9 1547.3 L1271.4 1563.6 L1252.4 1563.6 Z"/>
<path d="M1282.8 1545.8 L1292.3 1562.1 L1273.3 1562.1 Z"/>
<path d="M1303.7 1544.4 L1313.2 1560.7 L1294.2 1560.7 Z"/>
<path d="M1324.6 1543.4 L1334.1 1559.7 L1315.1 1559.7 Z"/>
<path d="M1345.5 1542.3 L1355.0 1558.6 L1336.0 1558.6 Z"/>
<path d="M1366.4 1541.6 L1375.9 1557.9 L1356.9 1557.9 Z"/>
<path d="M1387.3 1540.6 L1396.8 1556.9 L1377.8 1556.9 Z"/>
</g></g>
<g stroke="#000" stroke-linecap="round" fill="none">
<path stroke-width="4.0" stroke-linecap="butt" d="M143.4 1221.2 V2146.0"/>
<path stroke-width="4.0" stroke-linecap="butt" d="M141.4 2146.0 H1400.0"/>
<path stroke-width="4.0" d="M142.6 1223.2 H124.4M142.6 1294.2 H133.9M142.6 1365.2 H124.4M142.6 1436.1 H133.9M142.6 1507.0 H124.4M142.6 1578.0 H133.9M142.6 1649.0 H124.4M142.6 1719.9 H133.9M142.6 1790.8 H124.4M142.6 1861.8 H133.9M142.6 1932.8 H124.4M142.6 2003.7 H133.9M142.6 2074.7 H124.4M142.6 2145.6 H133.9M143.2 2146.8 V2155.5M247.8 2146.8 V2165.0M352.3 2146.8 V2155.5M456.9 2146.8 V2165.0M561.4 2146.8 V2155.5M666.0 2146.8 V2165.0M770.5 2146.8 V2155.5M875.0 2146.8 V2165.0M979.6 2146.8 V2155.5M1084.2 2146.8 V2165.0M1188.7 2146.8 V2155.5M1293.3 2146.8 V2165.0M1397.8 2146.8 V2155.5"/>
</g>
<g font-family="'Liberation Sans', sans-serif" font-size="36.8" fill="#000">
<g text-anchor="end">
<text x="111.8" y="1233.3">0</text>
<text x="111.8" y="1375.2">-10</text>
<text x="111.8" y="1517.1">-20</text>
<text x="111.8" y="1659.0">-30</text>
<text x="111.8" y="1800.9">-40</text>
<text x="111.8" y="1942.8">-50</text>
<text x="111.8" y="2084.8">-60</text>
</g><g text-anchor="middle" letter-spacing="0.00">
<text x="247.8" y="2206.3">1.4</text>
<text x="456.9" y="2206.3">1.6</text>
<text x="666.0" y="2206.3">1.8</text>
<text x="875.0" y="2206.3">2.0</text>
<text x="1084.2" y="2206.3">2.2</text>
<text x="1293.3" y="2206.3">2.4</text>
</g></g>
<rect x="932.1" y="1227.3" width="340" height="196.6" fill="#fff" stroke="#000" stroke-width="2" stroke-linejoin="round"/>
<g stroke="#000" stroke-width="4" stroke-linecap="round">
<path d="M961.6 1268.0 H1062.2"/>
<path d="M961.6 1324.9 H1062.2"/>
<path d="M961.6 1381.7 H1062.2"/>
</g>
<rect x="1001.1" y="1257.1" width="21.8" height="21.8"/>
<circle cx="1012" cy="1324.9" r="8.4"/>
<path d="M1012 1370.8 L1021.7 1387.1 L1002.3 1387.1 Z"/>
<g font-family="'Liberation Serif', serif" font-size="45.5" fill="#000">
<text x="1075" y="1284.0" textLength="168.5" lengthAdjust="spacingAndGlyphs">c=0.4mm</text>
<text x="1075" y="1340.6" textLength="168.5" lengthAdjust="spacingAndGlyphs">c=0.6mm</text>
<text x="1075" y="1397.4" textLength="168.5" lengthAdjust="spacingAndGlyphs">c=0.8mm</text>
</g>
<g font-family="'Liberation Serif', serif" fill="#000" text-anchor="middle">
<text x="749" y="2265.7" font-size="45.4" font-weight="bold">Freq(GHz)</text>
<text x="743.5" y="2338.1" font-size="49">(b)</text>
<text transform="translate(32 1714.3) rotate(-90)" font-size="46.5" font-weight="bold">S-Parameter</text>
</g>
</svg>
</body>
</html>
